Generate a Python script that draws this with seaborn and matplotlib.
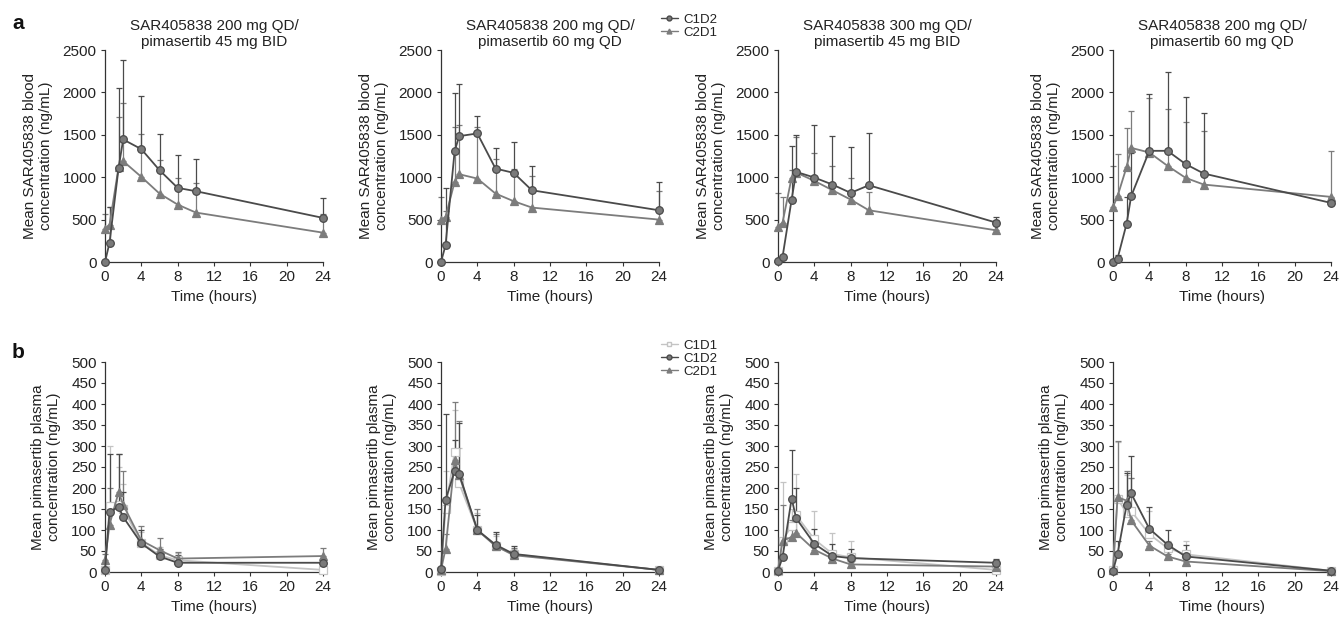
import matplotlib
matplotlib.use("Agg")
import matplotlib.pyplot as plt
import seaborn as sns
from matplotlib.lines import Line2D

sns.set_style("ticks")
plt.rcParams["font.family"] = ["Liberation Sans", "DejaVu Sans"]
plt.rcParams["font.size"] = 10

# Time points (hours)
times_a = [0, 0.5, 1.5, 2, 4, 6, 8, 10, 24]
times_b = [0, 0.5, 1.5, 2, 4, 6, 8, 24]

titles = [
    "SAR405838 200 mg QD/\npimasertib 45 mg BID",
    "SAR405838 200 mg QD/\npimasertib 60 mg QD",
    "SAR405838 300 mg QD/\npimasertib 45 mg BID",
    "SAR405838 200 mg QD/\npimasertib 60 mg QD",
]

# Panel a: SAR405838 blood concentration, mean and upper SD
a1_c1d2 = [0, 228, 1114, 1445, 1331, 1083, 874, 835, 520]
a1_c1d2_sd = [0, 420, 933, 937, 630, 425, 390, 374, 240]
a1_c2d1 = [390, 440, 1122, 1189, 1004, 807, 677, 583, 346]
a1_c2d1_sd = [180, 210, 591, 681, 500, 394, 319, 350, 225]

a2_c1d2 = [0, 197, 1307, 1484, 1516, 1102, 1051, 846, 610]
a2_c1d2_sd = [0, 677, 681, 614, 208, 248, 366, 288, 335]
a2_c2d1 = [492, 531, 945, 1035, 984, 807, 717, 642, 500]
a2_c2d1_sd = [276, 70, 645, 579, 610, 413, 385, 374, 335]

a3_c1d2 = [8, 59, 736, 1063, 996, 913, 815, 905, 465]
a3_c1d2_sd = [0, 0, 634, 433, 618, 571, 543, 611, 66]
a3_c2d1 = [413, 465, 996, 1055, 957, 846, 736, 610, 374]
a3_c2d1_sd = [402, 303, 87, 421, 334, 288, 260, 217, 118]

a4_c1d2 = [0, 40, 453, 776, 1311, 1311, 1154, 1043, 697]
a4_c1d2_sd = [0, 40, 315, 504, 665, 933, 787, 717, 63]
a4_c2d1 = [650, 776, 1122, 1346, 1291, 1134, 992, 913, 768]
a4_c2d1_sd = [484, 492, 453, 437, 646, 666, 654, 630, 539]

# Panel b: pimasertib plasma concentration, mean and upper SD
b1_c1d1 = [5, 157, 160, 150, 70, 40, 28, 5]
b1_c1d1_sd = [0, 143, 90, 60, 25, 20, 17, 0]
b1_c1d2 = [5, 143, 155, 131, 68, 37, 22, 22]
b1_c1d2_sd = [0, 137, 125, 59, 32, 18, 18, 6]
b1_c2d1 = [28, 113, 190, 160, 75, 52, 32, 38]
b1_c2d1_sd = [15, 87, 90, 80, 35, 30, 16, 20]

b2_c1d1 = [2, 149, 285, 211, 100, 62, 42, 5]
b2_c1d1_sd = [0, 91, 100, 84, 40, 23, 13, 0]
b2_c1d2 = [7, 172, 240, 234, 100, 65, 43, 5]
b2_c1d2_sd = [0, 205, 75, 121, 35, 30, 19, 0]
b2_c2d1 = [5, 55, 266, 230, 100, 62, 40, 5]
b2_c2d1_sd = [0, 35, 138, 130, 50, 28, 18, 0]

b3_c1d1 = [2, 75, 110, 135, 78, 43, 35, 5]
b3_c1d1_sd = [0, 140, 40, 98, 67, 49, 40, 0]
b3_c1d2 = [3, 35, 175, 128, 67, 38, 33, 22]
b3_c1d2_sd = [0, 0, 116, 72, 35, 28, 21, 10]
b3_c2d1 = [5, 75, 83, 93, 53, 32, 18, 13]
b3_c2d1_sd = [0, 85, 42, 47, 15, 8, 6, 5]

b4_c1d1 = [5, 175, 140, 145, 90, 57, 42, 3]
b4_c1d1_sd = [0, 135, 90, 80, 55, 18, 33, 0]
b4_c1d2 = [3, 43, 160, 187, 103, 65, 37, 3]
b4_c1d2_sd = [0, 32, 75, 90, 52, 35, 28, 0]
b4_c2d1 = [5, 178, 170, 123, 63, 37, 25, 2]
b4_c2d1_sd = [0, 134, 70, 100, 12, 5, 5, 0]

# Series styles: (line colour, marker, face colour)
styles = {
    "C1D1": ("#c4c4c4", "s", "white"),
    "C1D2": ("#4a4a4a", "o", "#7a7a7a"),
    "C2D1": ("#7c7c7c", "^", "#7c7c7c"),
}

W, H = 1341, 621
fig = plt.figure(figsize=(W / 100, H / 100), dpi=100)

lefts = [105, 441, 778, 1113]
FS = 11


def make_axes(left, top, bottom, width=218):
    return fig.add_axes([left / W, 1 - bottom / H, width / W, (bottom - top) / H])


def draw_series(ax, times, name, mean, sd):
    color, marker, face = styles[name]
    ax.errorbar(times, mean, yerr=[[0] * len(sd), sd], fmt="none", ecolor=color,
                elinewidth=0.9, capsize=2.5, capthick=0.9, zorder=1, clip_on=False)
    sns.lineplot(x=times, y=mean, color=color, marker=marker, markersize=5.5,
                 markerfacecolor=face, markeredgecolor=color, markeredgewidth=0.9,
                 linewidth=1.3, ax=ax, clip_on=False, zorder=3)


def style_axes(ax, ymax, ystep, ylabel):
    ax.set_xlim(0, 24)
    ax.set_ylim(0, ymax)
    ax.set_xticks(range(0, 25, 4))
    ax.set_yticks(range(0, ymax + 1, ystep))
    sns.despine(ax=ax)
    for s in ["left", "bottom"]:
        ax.spines[s].set_color("#333333")
        ax.spines[s].set_linewidth(0.9)
    ax.tick_params(direction="out", length=3, width=0.8, color="#333333",
                   labelsize=FS, labelcolor="#222222", pad=3)
    ax.set_xlabel("Time (hours)", fontsize=FS, color="#222222", labelpad=4)
    ax.set_ylabel(ylabel, fontsize=FS, color="#222222", labelpad=7)


# Top row
top_data = [
    (a1_c1d2, a1_c1d2_sd, a1_c2d1, a1_c2d1_sd),
    (a2_c1d2, a2_c1d2_sd, a2_c2d1, a2_c2d1_sd),
    (a3_c1d2, a3_c1d2_sd, a3_c2d1, a3_c2d1_sd),
    (a4_c1d2, a4_c1d2_sd, a4_c2d1, a4_c2d1_sd),
]
for i, (c1d2, c1d2_sd, c2d1, c2d1_sd) in enumerate(top_data):
    ax = make_axes(lefts[i], 50, 262)
    draw_series(ax, times_a, "C2D1", c2d1, c2d1_sd)
    draw_series(ax, times_a, "C1D2", c1d2, c1d2_sd)
    style_axes(ax, 2500, 500, "Mean SAR405838 blood\nconcentration (ng/mL)")
    ax.set_title(titles[i], fontsize=FS, color="#222222", pad=3, linespacing=1.2)

# Bottom row
bottom_data = [
    (b1_c1d1, b1_c1d1_sd, b1_c1d2, b1_c1d2_sd, b1_c2d1, b1_c2d1_sd),
    (b2_c1d1, b2_c1d1_sd, b2_c1d2, b2_c1d2_sd, b2_c2d1, b2_c2d1_sd),
    (b3_c1d1, b3_c1d1_sd, b3_c1d2, b3_c1d2_sd, b3_c2d1, b3_c2d1_sd),
    (b4_c1d1, b4_c1d1_sd, b4_c1d2, b4_c1d2_sd, b4_c2d1, b4_c2d1_sd),
]
for i, (c1d1, c1d1_sd, c1d2, c1d2_sd, c2d1, c2d1_sd) in enumerate(bottom_data):
    ax = make_axes(lefts[i], 362, 572)
    draw_series(ax, times_b, "C1D1", c1d1, c1d1_sd)
    draw_series(ax, times_b, "C2D1", c2d1, c2d1_sd)
    draw_series(ax, times_b, "C1D2", c1d2, c1d2_sd)
    style_axes(ax, 500, 50, "Mean pimasertib plasma\nconcentration (ng/mL)")


def legend_handles(names):
    hs = []
    for n in names:
        color, marker, face = styles[n]
        hs.append(Line2D([], [], color=color, marker=marker, markersize=3.5,
                         markerfacecolor=face, markeredgecolor=color, linewidth=1.0))
    return hs


leg_kw = dict(loc="upper left", frameon=False, fontsize=9.5, handlelength=1.3,
              handletextpad=0.4, labelspacing=0.05, borderpad=0, labelcolor="#222222")
fig.legend(legend_handles(["C1D2", "C2D1"]), ["C1D2", "C2D1"],
           bbox_to_anchor=(654 / W, 1 - 7 / H), **leg_kw)
fig.legend(legend_handles(["C1D1", "C1D2", "C2D1"]), ["C1D1", "C1D2", "C2D1"],
           bbox_to_anchor=(654 / W, 1 - 333 / H), **leg_kw)

fig.text(12 / W, 1 - 29 / H, "a", fontsize=15, fontweight="bold", color="#111111")
fig.text(12 / W, 1 - 358 / H, "b", fontsize=15, fontweight="bold", color="#111111")

fig.savefig("out.png", dpi=100)
